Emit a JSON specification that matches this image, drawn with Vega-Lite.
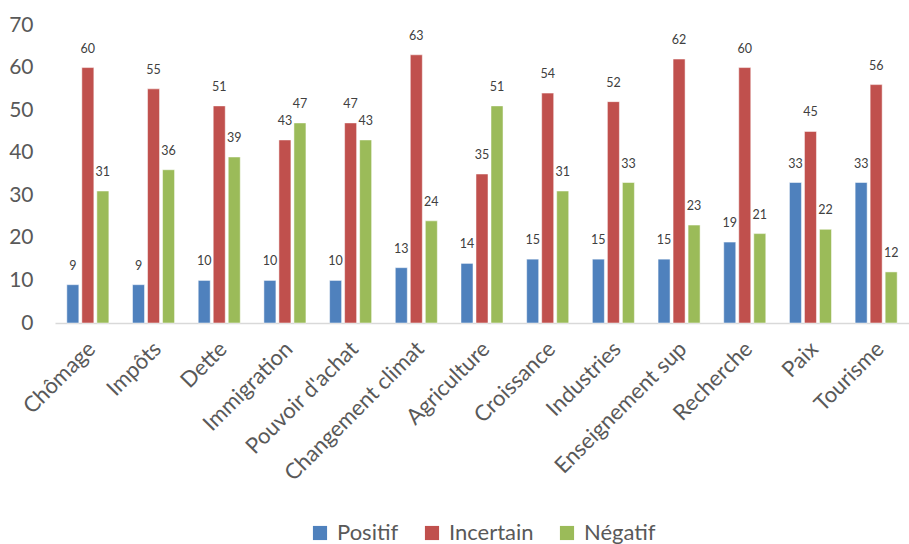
{
  "$schema": "https://vega.github.io/schema/vega-lite/v6.json",
  "autosize": "none",
  "width": 854,
  "height": 298,
  "padding": {"left": 55, "top": 25, "right": 0, "bottom": 221},
  "background": "white",
  "config": {
    "font": "Lato",
    "view": {"stroke": null},
    "legend": {"layout": {"bottom": {"anchor": "middle"}}}
  },
  "data": {
    "values": [
      {"theme": "Chômage", "serie": "Positif", "value": 9},
      {"theme": "Chômage", "serie": "Incertain", "value": 60},
      {"theme": "Chômage", "serie": "Négatif", "value": 31},
      {"theme": "Impôts", "serie": "Positif", "value": 9},
      {"theme": "Impôts", "serie": "Incertain", "value": 55},
      {"theme": "Impôts", "serie": "Négatif", "value": 36},
      {"theme": "Dette", "serie": "Positif", "value": 10},
      {"theme": "Dette", "serie": "Incertain", "value": 51},
      {"theme": "Dette", "serie": "Négatif", "value": 39},
      {"theme": "Immigration", "serie": "Positif", "value": 10},
      {"theme": "Immigration", "serie": "Incertain", "value": 43},
      {"theme": "Immigration", "serie": "Négatif", "value": 47},
      {"theme": "Pouvoir d'achat", "serie": "Positif", "value": 10},
      {"theme": "Pouvoir d'achat", "serie": "Incertain", "value": 47},
      {"theme": "Pouvoir d'achat", "serie": "Négatif", "value": 43},
      {"theme": "Changement climat", "serie": "Positif", "value": 13},
      {"theme": "Changement climat", "serie": "Incertain", "value": 63},
      {"theme": "Changement climat", "serie": "Négatif", "value": 24},
      {"theme": "Agriculture", "serie": "Positif", "value": 14},
      {"theme": "Agriculture", "serie": "Incertain", "value": 35},
      {"theme": "Agriculture", "serie": "Négatif", "value": 51},
      {"theme": "Croissance", "serie": "Positif", "value": 15},
      {"theme": "Croissance", "serie": "Incertain", "value": 54},
      {"theme": "Croissance", "serie": "Négatif", "value": 31},
      {"theme": "Industries", "serie": "Positif", "value": 15},
      {"theme": "Industries", "serie": "Incertain", "value": 52},
      {"theme": "Industries", "serie": "Négatif", "value": 33},
      {"theme": "Enseignement sup", "serie": "Positif", "value": 15},
      {"theme": "Enseignement sup", "serie": "Incertain", "value": 62},
      {"theme": "Enseignement sup", "serie": "Négatif", "value": 23},
      {"theme": "Recherche", "serie": "Positif", "value": 19},
      {"theme": "Recherche", "serie": "Incertain", "value": 60},
      {"theme": "Recherche", "serie": "Négatif", "value": 21},
      {"theme": "Paix", "serie": "Positif", "value": 33},
      {"theme": "Paix", "serie": "Incertain", "value": 45},
      {"theme": "Paix", "serie": "Négatif", "value": 22},
      {"theme": "Tourisme", "serie": "Positif", "value": 33},
      {"theme": "Tourisme", "serie": "Incertain", "value": 56},
      {"theme": "Tourisme", "serie": "Négatif", "value": 12}
    ]
  },
  "encoding": {
    "x": {
      "field": "theme", "type": "nominal", "sort": null,
      "scale": {"paddingInner": 0.36, "paddingOuter": 0.18},
      "axis": {
        "title": null, "labelAngle": -45, "labelAlign": "right", "labelBaseline": "middle",
        "labelFontSize": 22, "labelColor": "#595959", "labelPadding": 22, "labelLimit": 400,
        "labelOffset": 4,
        "ticks": false, "domainColor": "#D9D9D9", "domainWidth": 1.5
      }
    },
    "xOffset": {
      "field": "serie", "type": "nominal", "sort": ["Positif", "Incertain", "Négatif"],
      "scale": {"paddingInner": 0.2}
    },
    "y": {
      "field": "value", "type": "quantitative",
      "scale": {"domain": [0, 70], "nice": false},
      "axis": {
        "title": null, "values": [0, 10, 20, 30, 40, 50, 60, 70],
        "labelFontSize": 21, "labelColor": "#595959", "labelPadding": 22,
        "ticks": false, "domain": false, "grid": false
      }
    }
  },
  "layer": [
    {
      "mark": {"type": "bar", "stroke": "white", "strokeWidth": 0.5},
      "encoding": {
        "color": {
          "field": "serie", "type": "nominal",
          "sort": ["Positif", "Incertain", "Négatif"],
          "scale": {"domain": ["Positif", "Incertain", "Négatif"], "range": ["#4F81BD", "#C0504D", "#9BBB59"]},
          "legend": {
            "title": null, "orient": "bottom", "direction": "horizontal",
            "symbolType": "square", "symbolSize": 200, "symbolStrokeWidth": 0,
            "labelFontSize": 22, "labelColor": "#595959", "columnPadding": 22,
            "labelOffset": 6, "offset": 37
          }
        }
      }
    },
    {
      "mark": {"type": "text", "dy": -12, "fontSize": 12.5, "color": "#404040", "baseline": "bottom"},
      "encoding": {
        "text": {"field": "value", "type": "quantitative"}
      }
    }
  ]
}
